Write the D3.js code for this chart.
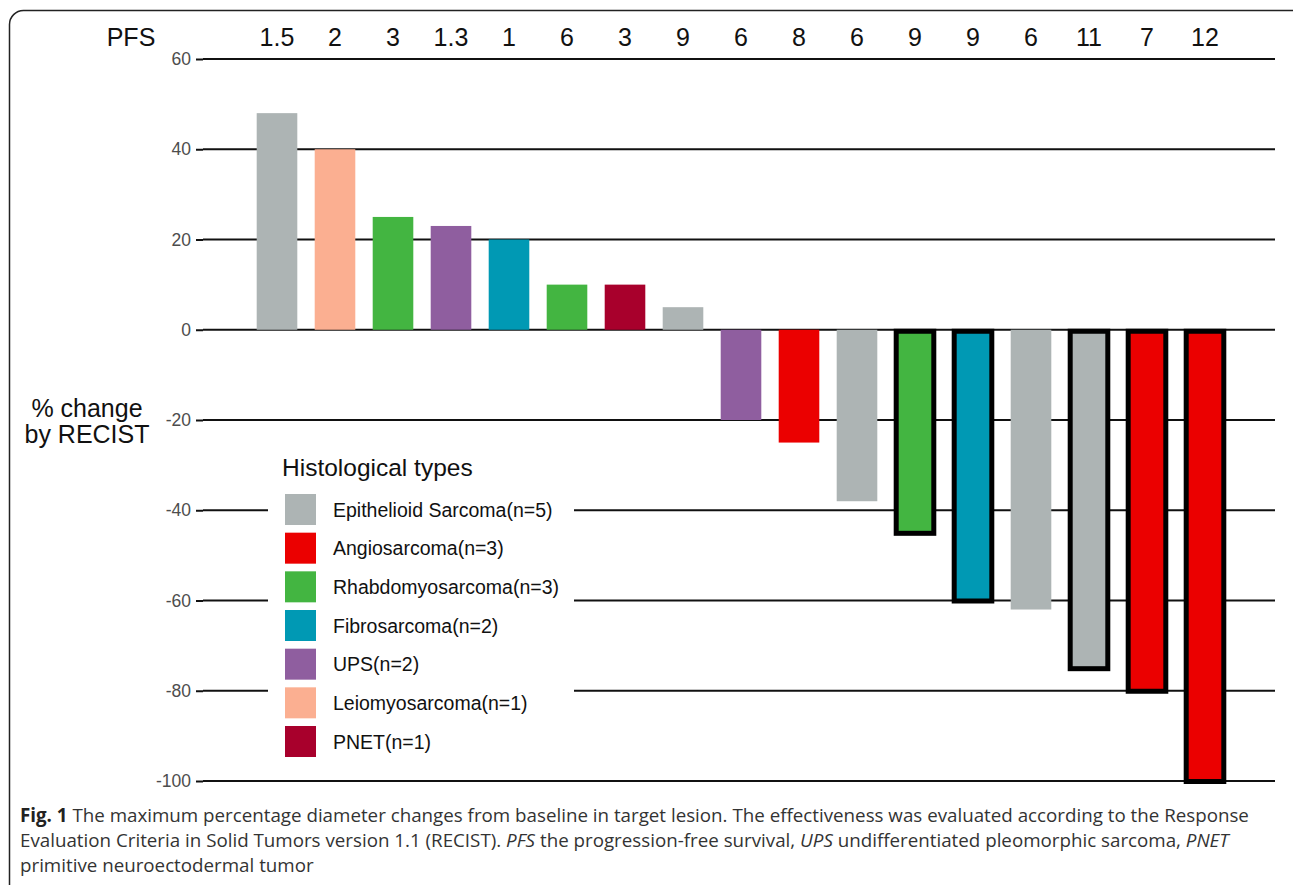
<!DOCTYPE html>
<html>
<head>
<meta charset="utf-8">
<script src="https://cdn.jsdelivr.net/npm/d3@7"></script>
<style>
  body { margin: 0; background: #fff; }
  svg { display: block; }
  .arial { font-family: "Liberation Sans", Arial, sans-serif; }
  .cap { font-family: "Open Sans", sans-serif; }
</style>
</head>
<body>
<div id="vis"></div>
<script>
// data
const PFS = ["1.5", "2", "3", "1.3", "1", "6", "3", "9", "6", "8", "6", "9", "9", "6", "11", "7", "12"];
const CHANGE = [48, 40, 25, 23, 20, 10, 10, 5, -20, -25, -38, -45, -60, -62, -75, -80, -100];
const HISTO = ["ES", "LMS", "RMS", "UPS", "FS", "RMS", "PNET", "ES", "UPS", "AS", "ES", "RMS", "FS", "ES", "ES", "AS", "AS"];
const OUTLINED = [false, false, false, false, false, false, false, false, false, false, false, true, true, false, true, true, true];
const TYPE_KEYS = ["ES", "AS", "RMS", "FS", "UPS", "LMS", "PNET"];
const TYPE_LABELS = ["Epithelioid Sarcoma(n=5)", "Angiosarcoma(n=3)", "Rhabdomyosarcoma(n=3)",
                     "Fibrosarcoma(n=2)", "UPS(n=2)", "Leiomyosarcoma(n=1)", "PNET(n=1)"];
const TYPE_COLORS = ["#adb4b4", "#eb0000", "#43b541", "#0099b4", "#8f5e9f", "#fbaf91", "#a8002c"];
const Y_TICKS = [60, 40, 20, 0, -20, -40, -60, -80, -100];

const FRAME_WIDTH = 1293;
const FRAME_HEIGHT = 885;

const FRAME = d3.select("#vis")
    .append("svg")
    .attr("width", FRAME_WIDTH)
    .attr("height", FRAME_HEIGHT);

// rounded figure border
FRAME.append("rect")
    .attr("x", 9.5).attr("y", 10.5)
    .attr("width", 1300).attr("height", 920)
    .attr("rx", 14).attr("ry", 14)
    .attr("fill", "none")
    .attr("stroke", "#222")
    .attr("stroke-width", 1.5);

const COLOR = d3.scaleOrdinal().domain(TYPE_KEYS).range(TYPE_COLORS);

const X_SCALE = d3.scaleBand()
    .domain(d3.range(CHANGE.length))
    .range([248, 1234])
    .paddingInner(0.3)
    .paddingOuter(0.15);

const Y_SCALE = d3.scaleLinear()
    .domain([-100, 60])
    .range([781, 59]);

// y axis with full-width grid lines
const yAxis = FRAME.append("g")
    .attr("transform", "translate(203,0)")
    .call(d3.axisLeft(Y_SCALE).tickValues(Y_TICKS).tickFormat((d) => String(d)).tickSize(7).tickPadding(5));
yAxis.attr("font-family", null).attr("font-size", null).attr("class", "arial");
yAxis.select(".domain").remove();
yAxis.selectAll(".tick line").attr("stroke", "#111").attr("stroke-width", 2);
yAxis.selectAll(".tick text").attr("fill", "#4d4d4d").style("font-size", "17.5px");

FRAME.append("g")
    .selectAll("line")
    .data(Y_TICKS)
    .enter()
    .append("line")
    .attr("x1", 203).attr("x2", 1275)
    .attr("y1", (d) => Y_SCALE(d))
    .attr("y2", (d) => Y_SCALE(d))
    .attr("stroke", "#111")
    .attr("stroke-width", 2);

// bars
const barData = CHANGE.map((v, i) => ({ i: i, v: v, type: HISTO[i], outlined: OUTLINED[i] }));

FRAME.append("g")
    .selectAll("rect")
    .data(barData)
    .enter()
    .append("rect")
    .attr("x", (d) => X_SCALE(d.i) + (d.outlined ? 1.5 : 0))
    .attr("width", (d) => X_SCALE.bandwidth() - (d.outlined ? 3 : 0))
    .attr("y", (d) => Math.min(Y_SCALE(d.v), Y_SCALE(0)) + (d.outlined ? 1.5 : 0))
    .attr("height", (d) => Math.abs(Y_SCALE(d.v) - Y_SCALE(0)) - (d.outlined ? 1 : 0))
    .attr("fill", (d) => COLOR(d.type))
    .attr("stroke", (d) => d.outlined ? "#000" : "none")
    .attr("stroke-width", 5);

// PFS row
FRAME.append("text")
    .attr("class", "arial")
    .attr("x", 131).attr("y", 46)
    .attr("text-anchor", "middle")
    .style("font-size", "25px")
    .attr("fill", "#111")
    .text("PFS");

FRAME.append("g")
    .selectAll("text")
    .data(PFS)
    .enter()
    .append("text")
    .attr("class", "arial")
    .attr("x", (d, i) => X_SCALE(i) + X_SCALE.bandwidth() / 2)
    .attr("y", 46)
    .attr("text-anchor", "middle")
    .style("font-size", "25px")
    .attr("fill", "#111")
    .text((d) => d);

// y title
const yTitle = FRAME.append("text")
    .attr("class", "arial")
    .attr("text-anchor", "middle")
    .style("font-size", "25px")
    .attr("fill", "#111");
yTitle.append("tspan").attr("x", 87).attr("y", 417).text("% change");
yTitle.append("tspan").attr("x", 87).attr("y", 443).text("by RECIST");

// legend
const LEGEND = FRAME.append("g").attr("class", "arial");
LEGEND.append("rect")
    .attr("x", 268).attr("y", 448)
    .attr("width", 306).attr("height", 318)
    .attr("fill", "#fff");
LEGEND.append("text")
    .attr("x", 282).attr("y", 476)
    .style("font-size", "24.5px")
    .attr("fill", "#111")
    .text("Histological types");

const LEG_Y = d3.scalePoint().domain(TYPE_KEYS).range([494, 726]);

LEGEND.selectAll(".swatch")
    .data(TYPE_KEYS)
    .enter()
    .append("rect")
    .attr("class", "swatch")
    .attr("x", 285)
    .attr("y", (d) => LEG_Y(d))
    .attr("width", 31).attr("height", 31)
    .attr("fill", (d) => COLOR(d));

LEGEND.selectAll(".leg-label")
    .data(TYPE_KEYS)
    .enter()
    .append("text")
    .attr("class", "leg-label")
    .attr("x", 333)
    .attr("y", (d) => LEG_Y(d) + 22.5)
    .style("font-size", "19.5px")
    .attr("fill", "#111")
    .text((d, i) => TYPE_LABELS[i]);

// caption
const CAP_SIZE = "18.75px";
const cap1 = FRAME.append("text")
    .attr("class", "cap")
    .attr("x", 20).attr("y", 822)
    .style("font-size", CAP_SIZE).attr("fill", "#333");
cap1.append("tspan").attr("font-weight", "bold").attr("fill", "#222").text("Fig. 1");
cap1.append("tspan").text(" The maximum percentage diameter changes from baseline in target lesion. The effectiveness was evaluated according to the Response");

const cap2 = FRAME.append("text")
    .attr("class", "cap")
    .attr("x", 20).attr("y", 847)
    .style("font-size", CAP_SIZE).attr("fill", "#333");
cap2.append("tspan").text("Evaluation Criteria in Solid Tumors version 1.1 (RECIST). ");
cap2.append("tspan").attr("font-style", "italic").text("PFS");
cap2.append("tspan").text(" the progression-free survival, ");
cap2.append("tspan").attr("font-style", "italic").text("UPS");
cap2.append("tspan").text(" undifferentiated pleomorphic sarcoma, ");
cap2.append("tspan").attr("font-style", "italic").text("PNET");

FRAME.append("text")
    .attr("class", "cap")
    .attr("x", 20).attr("y", 872)
    .style("font-size", CAP_SIZE).attr("fill", "#333")
    .text("primitive neuroectodermal tumor");
</script>
</body>
</html>
